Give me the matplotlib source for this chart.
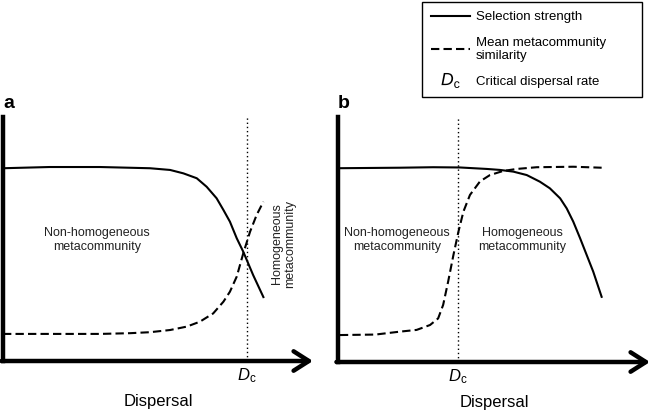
# plot.py
# Conceptual figure: selection strength and metacommunity similarity vs dispersal.

import matplotlib.pyplot as plt
from matplotlib.lines import Line2D

plt.rcParams["font.family"] = ["Liberation Sans", "DejaVu Sans"]
plt.rcParams["mathtext.fontset"] = "custom"
plt.rcParams["mathtext.rm"] = "Liberation Sans"
plt.rcParams["mathtext.it"] = "Liberation Sans:italic"

# Panel a (dispersal on a 0-10 scale, response on 0-1)
a_sel_x = [0.0, 1.5, 3.13, 4.10, 4.74, 5.39, 5.82, 6.25, 6.57, 6.89, 7.11,
           7.32, 7.54, 7.75, 8.07, 8.40]
a_sel_y = [0.790, 0.795, 0.795, 0.792, 0.790, 0.783, 0.769, 0.749, 0.714,
           0.667, 0.619, 0.571, 0.503, 0.448, 0.352, 0.262]
a_sim_x = [0.0, 3.13, 4.10, 4.74, 5.39, 5.93, 6.35, 6.78, 7.11, 7.32, 7.54,
           7.75, 7.97, 8.18, 8.40]
a_sim_y = [0.111, 0.111, 0.114, 0.118, 0.127, 0.141, 0.161, 0.195, 0.243,
           0.284, 0.346, 0.441, 0.530, 0.598, 0.653]
a_dc = 7.87

# Panel b
b_sel_x = [0.06, 1.99, 3.05, 3.91, 4.77, 5.19, 5.62, 6.05, 6.47, 6.79, 7.12,
           7.33, 7.54, 7.76, 7.97, 8.18, 8.45]
b_sel_y = [0.791, 0.793, 0.795, 0.794, 0.788, 0.784, 0.777, 0.763, 0.736,
           0.709, 0.668, 0.627, 0.573, 0.505, 0.437, 0.369, 0.266]
b_sim_x = [0.06, 1.2, 1.99, 2.52, 2.95, 3.21, 3.37, 3.53, 3.70, 3.86, 4.02,
           4.23, 4.55, 4.87, 5.30, 5.73, 6.37, 7.54, 8.45]
b_sim_y = [0.110, 0.112, 0.124, 0.131, 0.151, 0.178, 0.233, 0.328, 0.437,
           0.532, 0.614, 0.682, 0.737, 0.763, 0.780, 0.788, 0.795, 0.797, 0.793]
b_dc = 3.85

W, H = 650, 411
fig = plt.figure(figsize=(W / 100, H / 100), dpi=100)


def make_panel(rect, sel_x, sel_y, sim_x, sim_y, dc, letter):
    ax = fig.add_axes(rect)
    ax.set_xlim(0, 10)
    ax.set_ylim(0, 1)
    ax.patch.set_alpha(0)
    for s in ["top", "right", "bottom"]:
        ax.spines[s].set_visible(False)
    ax.spines["left"].set_linewidth(3.2)
    ax.annotate("", xy=(1.0, 0), xytext=(-0.005, 0), xycoords="axes fraction",
                arrowprops=dict(arrowstyle="->,head_length=0.55,head_width=0.35",
                                lw=3.2, color="black", shrinkA=0, shrinkB=0,
                                mutation_scale=20))
    ax.plot(sel_x, sel_y, color="black", lw=1.5, solid_joinstyle="round")
    ax.plot(sim_x, sim_y, color="black", lw=1.5, linestyle=(0, (4, 2)))
    ax.axvline(dc, color="black", lw=1, linestyle=(0, (1, 2)))
    ax.set_yticks([])
    ax.set_xticks([dc])
    ax.set_xticklabels([r"$D_\mathrm{c}$"], fontsize=12)
    ax.tick_params(axis="x", length=0, pad=4)
    ax.set_xlabel("Dispersal", fontsize=12, labelpad=6)
    ax.text(0.0, 1.02, letter, transform=ax.transAxes, fontsize=14,
            fontweight="bold", ha="left", va="bottom")
    return ax


txt = dict(fontsize=9, color="#222222", ha="center", va="center",
           linespacing=1.15)

ax_a = make_panel([3 / W, 50 / H, 310 / W, 244 / H],
                  a_sel_x, a_sel_y, a_sim_x, a_sim_y, a_dc, "a")
ax_a.text(3.03, 0.496, "Non-homogeneous\nmetacommunity", **txt)
ax_a.text(9.05, 0.48, "Homogeneous\nmetacommunity", rotation=90, **txt)

ax_b = make_panel([338 / W, 49 / H, 312 / W, 245 / H],
                  b_sel_x, b_sel_y, b_sim_x, b_sim_y, b_dc, "b")
ax_b.text(1.89, 0.498, "Non-homogeneous\nmetacommunity", **txt)
ax_b.text(5.9, 0.498, "Homogeneous\nmetacommunity", **txt)

handles = [
    Line2D([], [], color="black", lw=1.5),
    Line2D([], [], color="black", lw=1.5, linestyle=(0, (4, 2))),
    Line2D([], [], linestyle="none", marker=r"$D_\mathrm{c}$", markersize=13,
           markeredgewidth=0, color="black"),
]
labels = ["Selection strength", "Mean metacommunity\nsimilarity",
          "Critical dispersal rate"]
leg = fig.legend(handles, labels, loc="upper left", mode="expand",
                 bbox_to_anchor=(422 / W, 1 - 98 / H, 220 / W, 96 / H),
                 fontsize=9.5, fancybox=False, edgecolor="black",
                 framealpha=1, handlelength=2.9, labelspacing=1.0,
                 borderpad=0.7, borderaxespad=0, handletextpad=0.5)
leg.get_frame().set_linewidth(1.0)

fig.savefig("out.png", dpi=100)
